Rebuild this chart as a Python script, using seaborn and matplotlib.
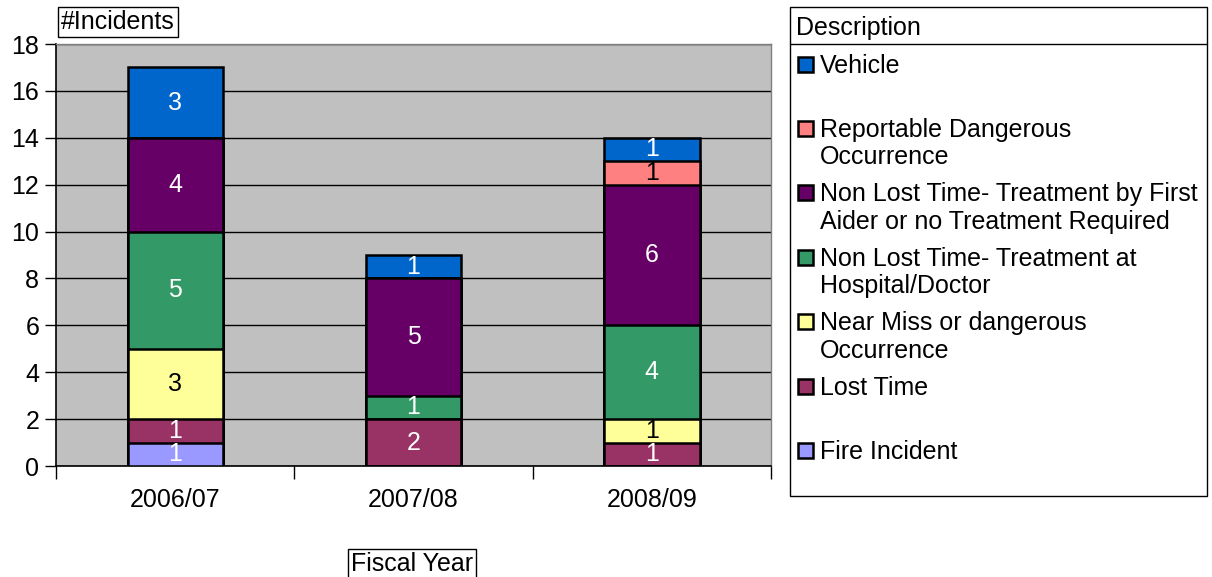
import matplotlib
matplotlib.use("Agg")
import matplotlib.pyplot as plt
import seaborn as sns
import pandas as pd
import numpy as np
from matplotlib.patches import Rectangle

years = ["2006/07", "2007/08", "2008/09"]
# stacked bottom -> top
categories = ["Fire Incident", "Lost Time", "Near Miss or dangerous\nOccurrence",
              "Non Lost Time- Treatment at\nHospital/Doctor",
              "Non Lost Time- Treatment by First\nAider or no Treatment Required",
              "Reportable Dangerous\nOccurrence", "Vehicle"]
fire = [1, 0, 0]
lost_time = [1, 2, 1]
near_miss = [3, 0, 1]
nlt_hospital = [5, 1, 4]
nlt_first_aid = [4, 5, 6]
reportable = [0, 0, 1]
vehicle = [3, 1, 1]
series = [fire, lost_time, near_miss, nlt_hospital, nlt_first_aid, reportable, vehicle]
colors = ["#9999FF", "#993366", "#FFFF99", "#339966", "#660066", "#FF8080", "#0066CC"]
label_colors = ["white", "white", "black", "white", "white", "black", "white"]
y_ticks = [0, 2, 4, 6, 8, 10, 12, 14, 16, 18]

FONT = ["Liberation Sans", "DejaVu Sans"]
FS = 18
sns.set_theme(style="white")
plt.rcParams["font.family"] = FONT
plt.rcParams["text.color"] = "black"
plt.rcParams["xtick.color"] = "black"
plt.rcParams["ytick.color"] = "black"
plt.rcParams["xtick.labelcolor"] = "black"
plt.rcParams["ytick.labelcolor"] = "black"

fig = plt.figure(figsize=(12.12, 5.77), dpi=100)
ax = fig.add_axes([56 / 1212, 1 - 466 / 577, (771 - 56) / 1212, (466 - 44) / 577])
ax.set_facecolor("#C0C0C0")

cum = np.cumsum(np.array(series), axis=0)
# draw cumulative totals from top to bottom so each segment shows
for k in range(len(series) - 1, -1, -1):
    df = pd.DataFrame({"year": years, "value": cum[k]})
    sns.barplot(data=df, x="year", y="value", order=years, color=colors[k],
                width=0.4, edgecolor="black", linewidth=1.8, saturation=1,
                ax=ax, zorder=3)

for k, vals in enumerate(series):
    for i, v in enumerate(vals):
        if v > 0:
            ax.text(i, cum[k][i] - v / 2, str(v), ha="center", va="center",
                    fontsize=FS, color=label_colors[k], zorder=5)

ax.set_xlim(-0.5, 2.5)
ax.set_ylim(0, 18)
ax.set_yticks(y_ticks)
ax.set_yticklabels([str(t) for t in y_ticks], fontsize=FS)
ax.set_xticks(range(len(years)))
ax.set_xticklabels(years, fontsize=FS)
ax.set_xticks([-0.5, 0.5, 1.5, 2.5], minor=True)
ax.tick_params(axis="x", which="major", length=0, pad=16)
ax.tick_params(axis="x", which="minor", length=9, width=1, color="black", direction="out", bottom=True)
ax.tick_params(axis="y", which="major", length=8, width=1, color="black", direction="out", left=True, pad=4)
ax.set_xlabel("")
ax.set_ylabel("")
ax.yaxis.grid(True, color="black", linewidth=1)
ax.set_axisbelow(True)
for s in ["top", "right"]:
    ax.spines[s].set_color("#808080")
    ax.spines[s].set_linewidth(1)
for s in ["left", "bottom"]:
    ax.spines[s].set_color("black")
    ax.spines[s].set_linewidth(1.2)

W, H = 1212, 577
def fx(x):
    return x / W
def fy(y):
    return 1 - y / H

# axis title boxes
fig.text(fx(61), fy(22), "#Incidents", fontsize=FS, ha="left", va="center",
         bbox=dict(boxstyle="square,pad=0.12", fc="white", ec="black", lw=1))
fig.text(fx(412), fy(564), "Fiscal Year", fontsize=FS, ha="center", va="center",
         bbox=dict(boxstyle="square,pad=0.12", fc="white", ec="black", lw=1))

# legend box
fig.patches.append(Rectangle((fx(790), fy(496)), fx(1207) - fx(790), fy(7) - fy(496),
                             transform=fig.transFigure, fc="white", ec="black", lw=1))
fig.lines.append(plt.Line2D([fx(790), fx(1207)], [fy(44), fy(44)],
                            transform=fig.transFigure, color="black", lw=1))
fig.text(fx(796), fy(35), "Description", fontsize=FS, ha="left", va="baseline")

legend_baselines = [73, 137, 201, 266, 330, 395, 459]
legend_order = list(range(len(series) - 1, -1, -1))
for yb, k in zip(legend_baselines, legend_order):
    fig.patches.append(Rectangle((fx(798), fy(yb - 1)), fx(15), 15 / H,
                                 transform=fig.transFigure, fc=colors[k], ec="black", lw=1.8))
    for j, line in enumerate(categories[k].split("\n")):
        fig.text(fx(820), fy(yb + 27.5 * j), line, fontsize=FS, ha="left", va="baseline")

fig.savefig("out.png", dpi=100, facecolor="white")
